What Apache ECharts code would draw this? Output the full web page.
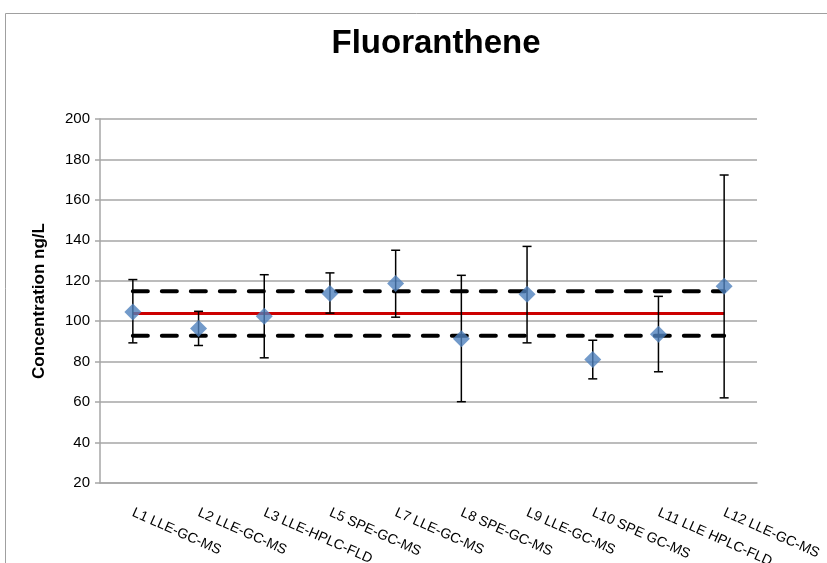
<!DOCTYPE html>
<html>
<head>
<meta charset="utf-8">
<script src="https://cdn.jsdelivr.net/npm/echarts@6/dist/echarts.min.js"></script>
<style>
html,body{margin:0;padding:0;background:#fff;}
#chart{width:827px;height:563px;}
</style>
</head>
<body>
<div id="chart"></div>
<script>
var categories = ['L1 LLE-GC-MS','L2 LLE-GC-MS','L3 LLE-HPLC-FLD','L5 SPE-GC-MS','L7 LLE-GC-MS','L8 SPE-GC-MS','L9 LLE-GC-MS','L10 SPE GC-MS','L11 LLE HPLC-FLD','L12 LLE-GC-MS'];
var values  = [104.6, 96.4, 102.5, 113.7, 118.6, 91.3, 113.3, 81.1, 93.6, 117.3];
var errLow  = [89.3, 88.0, 81.9, 104.0, 102.0, 60.2, 89.3, 71.5, 75.0, 62.1];
var errHigh = [120.6, 104.9, 123.0, 123.9, 135.1, 122.7, 137.0, 90.6, 112.3, 172.3];
var meanLine  = [103.8, 103.8, 103.8, 103.8, 103.8, 103.8, 103.8, 103.8, 103.8, 103.8];
var upperLine = [114.8, 114.8, 114.8, 114.8, 114.8, 114.8, 114.8, 114.8, 114.8, 114.8];
var lowerLine = [92.8, 92.8, 92.8, 92.8, 92.8, 92.8, 92.8, 92.8, 92.8, 92.8];
var yTicks = {min: 20, max: 200, interval: 20};

var errData = categories.map(function(c, i){ return [i, errLow[i], errHigh[i]]; });

var chart = echarts.init(document.getElementById('chart'), null, {renderer: 'canvas'});
var font = 'Liberation Sans, Arial, Helvetica, sans-serif';
chart.setOption({
  animation: false,
  backgroundColor: '#ffffff',
  title: {
    text: 'Fluoranthene',
    left: 431, top: 22, textAlign: 'center',
    textStyle: {fontFamily: font, fontSize: 33, fontWeight: 'bold', color: '#000'}
  },
  graphic: [{
    type: 'rect', silent: true, z: -1,
    shape: {x: 5.5, y: 13.5, width: 900, height: 700},
    style: {fill: 'none', stroke: '#a0a0a0', lineWidth: 1}
  }],
  grid: {left: 100, right: 70, top: 119, bottom: 80, containLabel: false, outerBoundsMode: 'none'},
  xAxis: {
    type: 'category',
    data: categories,
    boundaryGap: true,
    axisLine: {show: true, lineStyle: {color: '#a6a6a6', width: 1.5}},
    axisTick: {show: false},
    axisLabel: {rotate: -24, margin: 29, interval: 0, fontFamily: font, fontSize: 14, color: '#000'}
  },
  yAxis: {
    type: 'value',
    min: yTicks.min, max: yTicks.max, interval: yTicks.interval,
    name: 'Concentration ng/L',
    nameLocation: 'middle',
    nameGap: 52,
    nameTextStyle: {fontFamily: font, fontSize: 17, fontWeight: 'bold', color: '#000'},
    axisLine: {show: true, lineStyle: {color: '#a6a6a6', width: 1.5}},
    axisTick: {show: true, length: 5, lineStyle: {color: '#a6a6a6', width: 1.5}},
    axisLabel: {fontFamily: font, fontSize: 15, color: '#000', margin: 10},
    splitLine: {show: true, lineStyle: {color: '#a6a6a6', width: 1.5}}
  },
  series: [
    {
      type: 'line', data: upperLine, symbol: 'none', silent: true, z: 2,
      lineStyle: {color: '#000', width: 4, type: [15, 14], cap: 'round'}
    },
    {
      type: 'line', data: lowerLine, symbol: 'none', silent: true, z: 2,
      lineStyle: {color: '#000', width: 4, type: [15, 14], cap: 'round'}
    },
    {
      type: 'line', data: meanLine, symbol: 'none', silent: true, z: 3,
      lineStyle: {color: '#cc0000', width: 3}
    },
    {
      type: 'custom', z: 4, silent: true,
      data: errData,
      renderItem: function(params, api){
        var x = api.value(0);
        var lo = api.coord([x, api.value(1)]);
        var hi = api.coord([x, api.value(2)]);
        var hw = 4.5;
        var st = {stroke: '#000', lineWidth: 1.5};
        return {type: 'group', children: [
          {type: 'line', shape: {x1: lo[0], y1: lo[1], x2: hi[0], y2: hi[1]}, style: st},
          {type: 'line', shape: {x1: lo[0]-hw, y1: lo[1], x2: lo[0]+hw, y2: lo[1]}, style: st},
          {type: 'line', shape: {x1: hi[0]-hw, y1: hi[1], x2: hi[0]+hw, y2: hi[1]}, style: st}
        ]};
      }
    },
    {
      type: 'scatter', data: values, z: 5,
      symbol: 'diamond', symbolSize: [17, 17],
      itemStyle: {color: '#4f81bd'}
    }
  ]
});
</script>
</body>
</html>
